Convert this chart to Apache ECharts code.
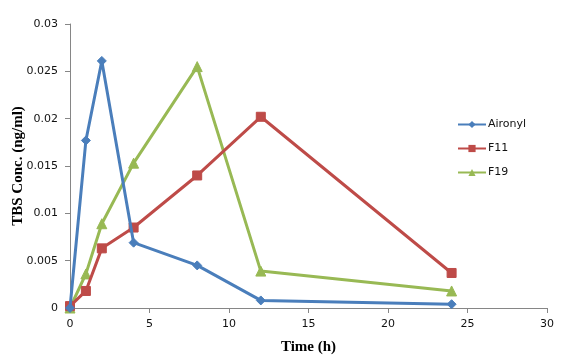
<!DOCTYPE html>
<html><head><meta charset="utf-8">
<script src="https://cdn.jsdelivr.net/npm/echarts@6/dist/echarts.min.js"></script>
<style>html,body{margin:0;padding:0;background:#fff}#c{width:568px;height:360px}</style>
</head><body><div id="c"></div>
<script>
var times = [0, 1, 2, 4, 8, 12, 24];
var aironyl = [0, 0.0177, 0.0261, 0.0069, 0.0045, 0.0008, 0.0004];
var f11 = [0.0002, 0.0018, 0.0063, 0.0085, 0.0140, 0.0202, 0.0037];
var f19 = [0, 0.0036, 0.0089, 0.0153, 0.0255, 0.0039, 0.0018];
var seriesNames = ['Aironyl', 'F11', 'F19'];
var colors = ['#4A7EBB', '#BE4B48', '#98B954'];
var symbols = ['diamond', 'rect', 'triangle'];
var symbolSizes = [9, 9, 10];
var values = [aironyl, f11, f19];

function pairs(ys) { return times.map(function (t, i) { return [t, ys[i]]; }); }

var chart = echarts.init(document.getElementById('c'), null, {renderer: 'canvas'});
chart.setOption({
  animation: false,
  grid: {left: 70, right: 21, top: 24, bottom: 52, containLabel: false, outerBoundsMode: 'none'},
  legend: {
    orient: 'vertical', left: 452, top: 114, itemGap: 13, itemWidth: 28, itemHeight: 9,
    textStyle: {fontFamily: 'DejaVu Sans', fontSize: 11, color: '#111', padding: [0, 0, 0, -3]},
    data: seriesNames
  },
  xAxis: {
    type: 'value', min: 0, max: 30, interval: 5,
    name: 'Time (h)', nameLocation: 'middle', nameGap: 32, nameMoveOverlap: false,
    nameTextStyle: {fontFamily: 'Liberation Serif', fontWeight: 'bold', fontSize: 15, color: '#000'},
    axisLine: {lineStyle: {color: '#868686', width: 1}},
    axisTick: {show: true, inside: false, length: 5, lineStyle: {color: '#868686'}},
    axisLabel: {fontFamily: 'DejaVu Sans', fontSize: 11, color: '#111', margin: 11},
    splitLine: {show: false}
  },
  yAxis: {
    type: 'value', min: 0, max: 0.03, interval: 0.005,
    name: 'TBS Conc. (ng/ml)', nameLocation: 'middle', nameGap: 44, nameRotate: 90, nameMoveOverlap: false,
    nameTextStyle: {fontFamily: 'Liberation Serif', fontWeight: 'bold', fontSize: 15, color: '#000'},
    axisLine: {show: true, lineStyle: {color: '#868686', width: 1}},
    axisTick: {show: true, inside: false, length: 5, lineStyle: {color: '#868686'}},
    axisLabel: {fontFamily: 'DejaVu Sans', fontSize: 11, color: '#111', margin: 12,
      formatter: function (v) { return String(+v.toFixed(3)); }},
    splitLine: {show: false}
  },
  series: seriesNames.map(function (n, k) {
    return {
      name: n, type: 'line', data: pairs(values[k]),
      symbol: symbols[k], symbolSize: symbolSizes[k], showAllSymbol: true,
      lineStyle: {color: colors[k], width: 3},
      itemStyle: {color: colors[k], borderColor: colors[k]},
      z: 3 - k
    };
  })
});
</script></body></html>
